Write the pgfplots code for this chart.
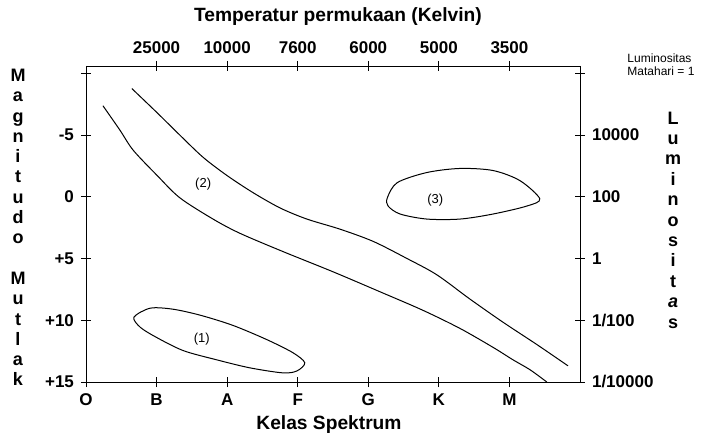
\documentclass[border=0pt]{standalone}
\usepackage{fontspec}
\setmainfont{Liberation Sans}
\usepackage{pgfplots}
\pgfplotsset{compat=1.18}

\pgfplotsset{hrbase/.style={
  at={(0,0)}, anchor=south west,
  scale only axis, width=247pt, height=158pt,
  xmin=0, xmax=7, ymin=-10.6, ymax=15, y dir=reverse,
  ytick={-10,-5,0,5,10,15},
  tick align=center, major tick length=5pt,
  tick style={black, thin},
  axis line style={black, thin},
  ticklabel style={font=\bfseries\fontsize{8.5}{10}\selectfont},
  clip=false,
}}

\begin{document}
\begin{tikzpicture}[x=1pt,y=1pt]
\useasboundingbox (-43,-28) rectangle (314.5,191);
\begin{axis}[hrbase,
  axis x line*=bottom, axis y line*=left,
  xtick={0,...,6}, xticklabels={O,B,A,F,G,K,M},
  yticklabels={,-5,0,+5,+10,+15},
]
% upper boundary of main sequence band
\addplot[black, line width=0.5pt, smooth] coordinates {
 (0.65,-8.77) (1.01,-6.80) (1.33,-5.00) (1.66,-3.20) (2.00,-1.72)
 (2.37,-0.33) (2.75,0.90) (3.13,1.80) (3.60,2.62) (4.07,3.61)
 (4.55,5.00) (4.97,6.31) (5.44,8.28) (5.91,10.16) (6.39,11.97) (6.83,13.69)};
% lower boundary
\addplot[black, line width=0.5pt, smooth] coordinates {
 (0.24,-7.38) (0.48,-5.41) (0.67,-3.77) (1.01,-1.72) (1.33,0.08)
 (1.80,1.80) (2.18,2.95) (2.79,4.43) (3.50,6.07) (4.17,7.70)
 (4.77,9.18) (5.30,10.66) (5.77,12.2) (6.05,13.2) (6.29,14.0) (6.53,15.0)};
% (1) white dwarfs
\addplot[black, line width=0.5pt, smooth cycle] coordinates {
 (0.68,9.75) (0.91,9.02) (1.23,9.10) (1.62,9.59) (2.08,10.41) (2.56,11.56)
 (2.93,12.62) (3.10,13.44) (2.99,14.10) (2.79,14.26) (2.32,13.85)
 (1.85,13.20) (1.38,12.46) (1.00,11.39) (0.77,10.57)};
% (3) giants
\addplot[black, line width=0.5pt, smooth cycle] coordinates {
 (4.27,0.08) (4.41,-1.15) (4.83,-1.97) (5.30,-2.30) (5.77,-2.13)
 (6.15,-1.31) (6.43,0.16) (6.25,0.74) (5.77,1.39) (5.30,1.80)
 (4.83,1.80) (4.45,1.39) (4.28,0.74)};
\node[font=\fontsize{6.5}{7}\selectfont] at (axis cs:1.66,-1.07) {(2)};
\node[font=\fontsize{6.5}{7}\selectfont] at (axis cs:4.95,0.25) {(3)};
\node[font=\fontsize{6.5}{7}\selectfont] at (axis cs:1.64,11.56) {(1)};
\end{axis}
\begin{axis}[hrbase,
  axis x line*=top, axis y line*=right,
  xtick={1,...,6}, xticklabels={25000,10000,7600,6000,5000,3500},
  yticklabels={,10000,100,1,1/100,1/10000},
]
\end{axis}
% titles
\node[font=\bfseries\fontsize{9.6}{11}\selectfont] at (126,182.5) {Temperatur permukaan (Kelvin)};
\node[font=\bfseries\fontsize{9.6}{11}\selectfont] at (121.5,-21.5) {Kelas Spektrum};
\node[font=\bfseries\fontsize{9}{10.15}\selectfont, align=center, inner sep=0pt]
  at (-34,77.25) {M\\a\\g\\n\\i\\t\\u\\d\\o\\~\\M\\u\\t\\l\\a\\k};
\node[font=\bfseries\fontsize{9}{10.2}\selectfont, align=center, inner sep=0pt]
  at (293.5,81) {L\\u\\m\\i\\n\\o\\s\\i\\t\\\textit{a}\\s};
\node[font=\fontsize{6}{6.5}\selectfont, align=left, anchor=north west, inner sep=0pt]
  at (270.5,164.5) {Luminositas\\Matahari = 1};
\end{tikzpicture}
\end{document}
